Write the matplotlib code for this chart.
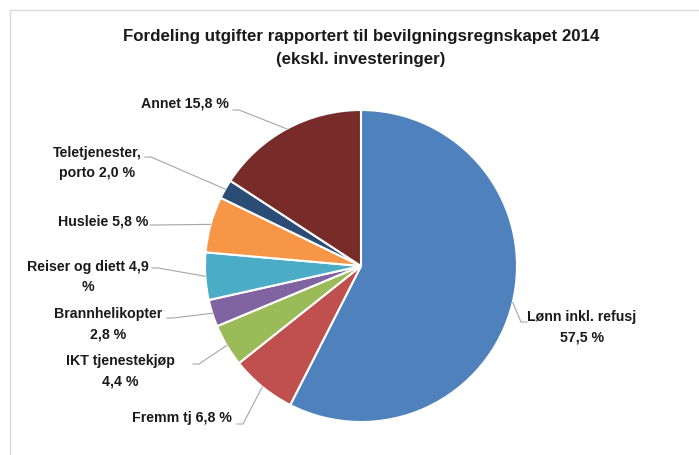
import numpy as np
import matplotlib
matplotlib.use("Agg")
import matplotlib.pyplot as plt

# data
kategorier = ["Lønn inkl. refusj", "Fremm tj", "IKT tjenestekjøp", "Brannhelikopter",
              "Reiser og diett", "Husleie", "Teletjenester, porto", "Annet"]
andel = [57.5, 6.8, 4.4, 2.8, 4.9, 5.8, 2.0, 15.8]
etiketter = ["Lønn inkl. refusj\n57,5 %", "Fremm tj 6,8 %", "IKT tjenestekjøp\n4,4 %",
             "Brannhelikopter\n2,8 %", "Reiser og diett 4,9\n%", "Husleie 5,8 %",
             "Teletjenester,\nporto 2,0 %", "Annet 15,8 %"]
farger = ["#4F81BD", "#C0504D", "#9BBB59", "#8064A2", "#4BACC6", "#F79646", "#2B4C74", "#772C2A"]

tittel = "Fordeling utgifter rapportert til bevilgningsregnskapet 2014\n(ekskl. investeringer)"

# layout i piksler (x, y fra toppen)
W, H = 699, 455
senter = (361, 266)
radius = 156
# tekstposisjon, startpunkt for linje
plass = [((582, 327), (527, 322)),
         ((182, 418), (237, 424)),
         ((120, 371), (193, 364)),
         ((108, 324), (167, 318)),
         ((88, 277), (152, 268)),
         ((103, 222), (150, 225)),
         ((97, 163), (145, 157)),
         ((185, 104), (233, 110))]

plt.rcParams['font.family'] = ['Liberation Sans', 'DejaVu Sans']

fig = plt.figure(figsize=(W / 100, H / 100), dpi=100)
ax = fig.add_axes([0, 0, 1, 1])

wedges, _ = ax.pie(andel, colors=farger, startangle=90, counterclock=False,
                   center=(senter[0], H - senter[1]), radius=radius,
                   wedgeprops=dict(edgecolor="white", linewidth=1.5))
ax.set_xlim(0, W)
ax.set_ylim(0, H)
ax.set_aspect("equal")
ax.axis("off")

# ramme (bare topp og venstre synlig)
ax.plot([10, W], [H - 10, H - 10], color="#D9D9D9", lw=1, clip_on=False)
ax.plot([10, 10], [0, H - 10], color="#D9D9D9", lw=1, clip_on=False)

ax.text(senter[0], H - 48, tittel, ha="center", va="center", fontsize=12.2,
        fontweight="bold", color="#1a1a1a", linespacing=1.6)

for w, tekst, (tp, lp) in zip(wedges, etiketter, plass):
    mid = np.deg2rad((w.theta1 + w.theta2) / 2)
    ex = w.center[0] + w.r * np.cos(mid)
    ey = w.center[1] + w.r * np.sin(mid)
    sx, sy = lp[0], H - lp[1]
    knekk = sx + 6 if sx < ex else sx - 6
    ax.plot([sx, knekk, ex], [sy, sy, ey], color="#A6A6A6", lw=0.8)
    ax.text(tp[0], H - tp[1], tekst, ha="center", va="center", fontsize=10.2,
            fontweight="bold", color="#1a1a1a", linespacing=1.55)

fig.savefig("out.png", dpi=100)
